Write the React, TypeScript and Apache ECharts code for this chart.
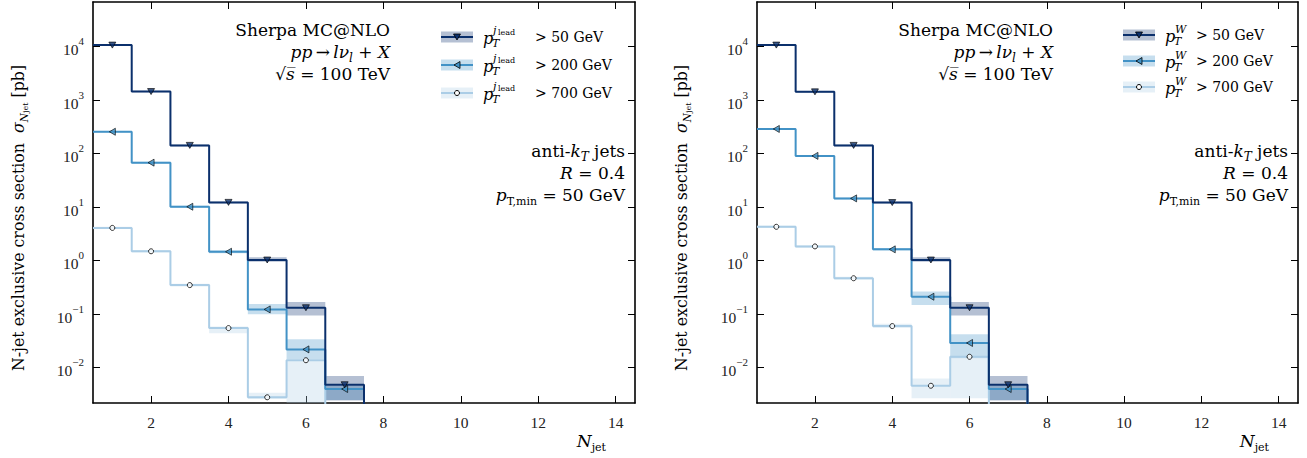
import React, { useEffect, useRef } from "react";
import * as echarts from "echarts";

// ---------- data ----------
const BIN_CENTERS = [1, 2, 3, 4, 5, 6, 7];
const X_TICKS = [2, 4, 6, 8, 10, 12, 14];
const Y_TICKS = [0.01, 0.1, 1, 10, 100, 1000, 10000];

// left panel: leading-jet pT cuts
const L_JET50 = [10700, 1450, 143, 12.3, 1.03, 0.132, 0.0048];
const L_JET50_LO = [10300, 1400, 138, 11.8, 0.96, 0.095, 0.00245];
const L_JET50_HI = [11100, 1500, 148, 12.8, 1.16, 0.169, 0.007];
const L_JET200 = [257, 68, 10.2, 1.47, 0.123, 0.022, 0.004];
const L_JET200_LO = [248, 65.5, 9.8, 1.38, 0.1, 0.0145, 0.0025];
const L_JET200_HI = [266, 70.5, 10.6, 1.56, 0.155, 0.034, 0.0046];
const L_JET700 = [4.1, 1.5, 0.35, 0.055, 0.0028, 0.0138];
const L_JET700_LO = [3.9, 1.42, 0.33, 0.044, 0.0026, 0.0005];
const L_JET700_HI = [4.3, 1.58, 0.37, 0.059, 0.0034, 0.0145];

// right panel: W pT cuts
const R_W50 = [10700, 1430, 143, 12.2, 1.03, 0.132, 0.0048];
const R_W50_LO = [10300, 1380, 138, 11.7, 0.96, 0.095, 0.00245];
const R_W50_HI = [11100, 1480, 148, 12.7, 1.16, 0.169, 0.007];
const R_W200 = [290, 91, 14.6, 1.63, 0.212, 0.029, 0.004];
const R_W200_LO = [280, 88, 14.0, 1.55, 0.149, 0.015, 0.0025];
const R_W200_HI = [300, 94, 15.2, 1.72, 0.265, 0.042, 0.0046];
const R_W700 = [4.3, 1.85, 0.47, 0.06, 0.0046, 0.016];
const R_W700_LO = [4.1, 1.75, 0.44, 0.055, 0.0027, 0.0027];
const R_W700_HI = [4.5, 1.95, 0.5, 0.066, 0.0063, 0.015];

const X_MIN = 0.5;
const X_MAX = 14.5;
const Y_MIN = 0.00219;
const Y_MAX = 68400;
const BIN_WIDTH = 1;
const FLOOR = 1e-7;

const C_DARK = "#0b306c";
const C_MID = "#4292c6";
const C_LIGHT = "#abcde6";
const FONT = "DejaVu Serif";
const NUMFONT = "Liberation Serif";

// ---------- helpers ----------
const stepData = (vals: number[]) => {
  const pts: number[][] = vals.map((v, i) => [BIN_CENTERS[i] - BIN_WIDTH / 2, v]);
  const last = BIN_CENTERS[vals.length - 1] + BIN_WIDTH / 2;
  pts.push([last, FLOOR]);
  return pts;
};

const bandSeries = (lo: number[], hi: number[], color: string, xi: number, yi: number, z: number) => ({
  type: "custom",
  xAxisIndex: xi,
  yAxisIndex: yi,
  z,
  silent: true,
  encode: { x: 0, y: [1, 2] },
  data: lo.map((l, i) => [BIN_CENTERS[i], l, hi[i]]),
  renderItem: (params: any, api: any) => {
    const x = api.value(0);
    const l = api.value(1);
    const h = api.value(2);
    const p1 = api.coord([x - BIN_WIDTH / 2, h]);
    const p2 = api.coord([x + BIN_WIDTH / 2, l]);
    const cs = params.coordSys;
    const shape = echarts.graphic.clipRectByRect(
      { x: p1[0], y: p1[1], width: p2[0] - p1[0], height: p2[1] - p1[1] },
      { x: cs.x, y: cs.y, width: cs.width, height: cs.height }
    );
    if (!shape) return null;
    return { type: "rect", shape, style: { fill: color, opacity: 0.3 } };
  },
});

const lineSeries = (vals: number[], color: string, xi: number, yi: number) => ({
  type: "line",
  xAxisIndex: xi,
  yAxisIndex: yi,
  step: "end",
  symbol: "none",
  clip: true,
  z: 3,
  lineStyle: { color, width: 2 },
  data: stepData(vals),
});

const markerSeries = (vals: number[], kind: string, color: string, xi: number, yi: number) => {
  let sym: any = {};
  if (kind === "down") sym = { symbol: "triangle", symbolRotate: 180, symbolSize: [7, 6], itemStyle: { color: C_DARK, borderColor: "#000", borderWidth: 0.8 } };
  if (kind === "left") sym = { symbol: "triangle", symbolRotate: 90, symbolSize: [7, 6], itemStyle: { color, borderColor: "#000", borderWidth: 0.8 } };
  if (kind === "circle") sym = { symbol: "circle", symbolSize: 5, itemStyle: { color: "#fff", borderColor: "#000", borderWidth: 1 } };
  return {
    type: "scatter",
    xAxisIndex: xi,
    yAxisIndex: yi,
    z: 5,
    clip: true,
    ...sym,
    data: vals.map((v, i) => [BIN_CENTERS[i], v]),
  };
};

const supStr = (e: number) => (e < 0 ? "\u2212" + -e : String(e));

const xAxisBase = (gi: number, pos: "bottom" | "top", labels: boolean) => ({
  type: "value",
  gridIndex: gi,
  position: pos,
  min: X_MIN,
  max: X_MAX,
  splitLine: { show: false },
  axisLine: { show: true, onZero: false, lineStyle: { color: "#000", width: 1.6 } },
  axisTick: { show: true, inside: true, length: 7, customValues: X_TICKS, lineStyle: { color: "#000", width: 1 } },
  axisLabel: { show: labels, customValues: X_TICKS, margin: 11, fontFamily: NUMFONT, fontSize: 15.5, color: "#222" },
});

const yAxisBase = (gi: number, pos: "left" | "right", labels: boolean) => ({
  type: "log",
  logBase: 10,
  gridIndex: gi,
  position: pos,
  min: Y_MIN,
  max: Y_MAX,
  splitLine: { show: false },
  minorTick: { show: false },
  axisLine: { show: true, onZero: false, lineStyle: { color: "#000", width: 1.6 } },
  axisTick: { show: true, inside: true, length: 7, customValues: Y_TICKS, lineStyle: { color: "#000", width: 1 } },
  axisLabel: {
    show: labels,
    customValues: Y_TICKS,
    margin: 9,
    formatter: (v: number) => `{b|10}{s|${supStr(Math.round(Math.log10(v)))}}`,
    rich: {
      b: { fontFamily: NUMFONT, fontSize: 15.5, color: "#222", lineHeight: 22, verticalAlign: "bottom" },
      s: { fontFamily: NUMFONT, fontSize: 11, color: "#222", lineHeight: 12, verticalAlign: "top" },
    },
  },
});

// rich text pieces
const RICH = {
  r: { fontFamily: FONT, fontSize: 17, color: "#000", lineHeight: 24 },
  i: { fontFamily: FONT, fontSize: 17, fontStyle: "italic", color: "#000", lineHeight: 24 },
  sub: { fontFamily: FONT, fontSize: 12, fontStyle: "italic", color: "#000", lineHeight: 12, verticalAlign: "bottom" },
  subr: { fontFamily: FONT, fontSize: 11, color: "#000", lineHeight: 10, verticalAlign: "bottom" },
  subsub: { fontFamily: FONT, fontSize: 8, color: "#000", lineHeight: 7, verticalAlign: "bottom" },
  yr: { fontFamily: FONT, fontSize: 15.8, color: "#000", lineHeight: 22 },
  yi: { fontFamily: FONT, fontSize: 15.8, fontStyle: "italic", color: "#000", lineHeight: 22 },
  ysub: { fontFamily: FONT, fontSize: 10.5, fontStyle: "italic", color: "#000", lineHeight: 11, verticalAlign: "bottom" },
};

const rtext = (x: number, y: number, text: string, align = "right", rotation = 0) => ({
  type: "text",
  x,
  y,
  rotation,
  silent: true,
  style: { text, align, verticalAlign: "middle", rich: RICH },
});

const annotations = (dx: number) => [
  rtext(390 + dx, 30, "{r|Sherpa MC@NLO}"),
  rtext(390 + dx, 52, "{i|pp} {r|\u2192} {i|l\u03BD}{sub|l}{r| + }{i|X}"),
  rtext(390 + dx, 74, "{r|\u221A}{i|s\u0305}{r| = 100 TeV}"),
  rtext(625 + dx, 151, "{r|anti-}{i|k}{sub|T}{r| jets}"),
  rtext(625 + dx, 173, "{i|R}{r| = 0.4}"),
  rtext(625 + dx, 195, "{i|p}{subr|T,min}{r| = 50 GeV}"),
  rtext(606 + dx, 441, "{i|N}{subr|jet}"),
  rtext(18 + dx, 218, "{yr|N-jet exclusive cross section  }{yi|\u03C3}{ysub|N}{subsub|jet}{yr| [pb]}", "center", Math.PI / 2),
];

const t = (x: number, y: number, text: string, size: number, italic = false) => ({
  type: "text",
  x,
  y,
  silent: true,
  style: { text, fontFamily: FONT, fontSize: size, fontStyle: italic ? "italic" : "normal", fill: "#000", align: "left", verticalAlign: "middle" },
});

const legendHandle = (x: number, y: number, color: string, kind: string) => {
  const els: any[] = [
    { type: "rect", silent: true, shape: { x, y: y - 5.5, width: 32, height: 11 }, style: { fill: color, opacity: 0.3 } },
    { type: "line", silent: true, shape: { x1: x, y1: y, x2: x + 32, y2: y }, style: { stroke: color, lineWidth: 2 } },
  ];
  const cx = x + 16;
  if (kind === "down")
    els.push({ type: "polygon", silent: true, shape: { points: [[cx - 3.5, y - 3], [cx + 3.5, y - 3], [cx, y + 3]] }, style: { fill: C_DARK, stroke: "#000", lineWidth: 0.8 } });
  if (kind === "left")
    els.push({ type: "polygon", silent: true, shape: { points: [[cx + 3, y - 3.5], [cx + 3, y + 3.5], [cx - 3, y]] }, style: { fill: color, stroke: "#000", lineWidth: 0.8 } });
  if (kind === "circle")
    els.push({ type: "circle", silent: true, shape: { cx, cy: y, r: 2.5 }, style: { fill: "#fff", stroke: "#000", lineWidth: 1 } });
  return els;
};

const LEG_KINDS = ["down", "left", "circle"];
const LEG_COLORS = [C_DARK, C_MID, C_LIGHT];
const LEG_CUTS = ["50", "200", "700"];

const leftLegend = () => {
  const els: any[] = [];
  [37, 65, 93].forEach((y, i) => {
    els.push(...legendHandle(441, y, LEG_COLORS[i], LEG_KINDS[i]));
    els.push(t(483, y + 1, "p", 16, true));
    els.push(t(492, y + 6, "T", 11, true));
    els.push(t(493, y - 7, "j", 11, true));
    els.push(t(498, y - 5, "lead", 8));
    els.push(t(535, y, "> " + LEG_CUTS[i] + " GeV", 14));
  });
  return els;
};

const rightLegend = () => {
  const els: any[] = [];
  [35, 61, 87].forEach((y, i) => {
    els.push(...legendHandle(1123, y, LEG_COLORS[i], LEG_KINDS[i]));
    els.push(t(1165, y + 1, "p", 16, true));
    els.push(t(1174, y + 6, "T", 11, true));
    els.push(t(1175, y - 6, "W", 11, true));
    els.push(t(1196, y, "> " + LEG_CUTS[i] + " GeV", 14));
  });
  return els;
};

export default function App() {
  const ref = useRef<HTMLDivElement>(null);
  useEffect(() => {
    if (!ref.current) return;
    const chart = echarts.init(ref.current, undefined, { renderer: "svg" });
    const series: any[] = [];
    const panel = (xi: number, yi: number, d: any) => {
      series.push(bandSeries(d.lo3, d.hi3, C_LIGHT, xi, yi, 1));
      series.push(bandSeries(d.lo2, d.hi2, C_MID, xi, yi, 1));
      series.push(bandSeries(d.lo1, d.hi1, C_DARK, xi, yi, 1));
      series.push(lineSeries(d.v3, C_LIGHT, xi, yi));
      series.push(lineSeries(d.v2, C_MID, xi, yi));
      series.push(lineSeries(d.v1, C_DARK, xi, yi));
      series.push(markerSeries(d.v3, "circle", C_LIGHT, xi, yi));
      series.push(markerSeries(d.v2, "left", C_MID, xi, yi));
      series.push(markerSeries(d.v1, "down", C_DARK, xi, yi));
    };
    panel(0, 0, { v1: L_JET50, lo1: L_JET50_LO, hi1: L_JET50_HI, v2: L_JET200, lo2: L_JET200_LO, hi2: L_JET200_HI, v3: L_JET700, lo3: L_JET700_LO, hi3: L_JET700_HI });
    panel(2, 2, { v1: R_W50, lo1: R_W50_LO, hi1: R_W50_HI, v2: R_W200, lo2: R_W200_LO, hi2: R_W200_HI, v3: R_W700, lo3: R_W700_LO, hi3: R_W700_HI });

    chart.setOption({
      animation: false,
      backgroundColor: "#fff",
      grid: [
        { left: 93, top: 2, width: 542, height: 401 },
        { left: 757, top: 2, width: 541, height: 401 },
      ],
      xAxis: [xAxisBase(0, "bottom", true), xAxisBase(0, "top", false), xAxisBase(1, "bottom", true), xAxisBase(1, "top", false)],
      yAxis: [yAxisBase(0, "left", true), yAxisBase(0, "right", false), yAxisBase(1, "left", true), yAxisBase(1, "right", false)],
      series,
      graphic: [...annotations(0), ...annotations(663), ...leftLegend(), ...rightLegend()],
    });
    return () => chart.dispose();
  }, []);
  return <div ref={ref} style={{ position: "fixed", left: 0, top: 0, width: 1307, height: 458 }} />;
}
